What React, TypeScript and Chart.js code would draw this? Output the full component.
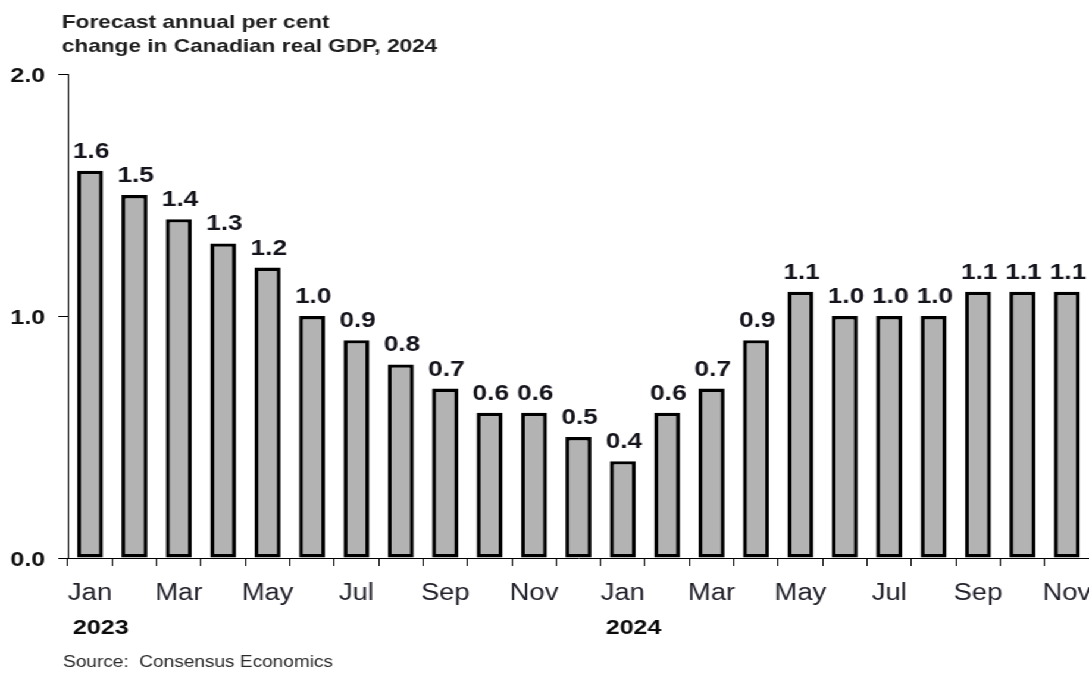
import React, { useEffect, useRef } from 'react';
import { Chart, registerables } from 'chart.js';

Chart.register(...registerables);

const months = ['Jan', 'Feb', 'Mar', 'Apr', 'May', 'Jun', 'Jul', 'Aug', 'Sep', 'Oct', 'Nov', 'Dec',
  'Jan', 'Feb', 'Mar', 'Apr', 'May', 'Jun', 'Jul', 'Aug', 'Sep', 'Oct', 'Nov'];
const forecast = [1.6, 1.5, 1.4, 1.3, 1.2, 1.0, 0.9, 0.8, 0.7, 0.6, 0.6, 0.5,
  0.4, 0.6, 0.7, 0.9, 1.1, 1.0, 1.0, 1.0, 1.1, 1.1, 1.1];
const yTickValues = [0, 1, 2];
const yearLabels = ['2023', '', '', '', '', '', '', '', '', '', '', '',
  '2024', '', '', '', '', '', '', '', '', '', ''];
const titleLines = ['Forecast annual per cent', 'change in Canadian real GDP, 2024'];
const sourceNote = 'Source:  Consensus Economics';

const FONT = '"Liberation Sans", Arial, sans-serif';
const W = 915;
const H = 677;
const STRETCH = 1089 / W;

const textPlugin = {
  id: 'customText',
  afterDraw(chart: any) {
    const ctx = chart.ctx;
    const xs = chart.scales.x;
    const ys = chart.scales.y;
    ctx.save();

    // title
    ctx.fillStyle = '#1e1e1e';
    ctx.font = `bold 19px ${FONT}`;
    ctx.textAlign = 'left';
    ctx.textBaseline = 'alphabetic';
    ctx.fillText(titleLines[0], 52, 28);
    ctx.fillText(titleLines[1], 52, 52);

    // y tick labels
    ctx.fillStyle = '#111';
    ctx.font = `bold 21px ${FONT}`;
    ctx.textAlign = 'right';
    yTickValues.forEach((v) => {
      const y = ys.getPixelForValue(v);
      ctx.fillText(v.toFixed(1), 38, y + 7.5);
    });

    // x tick labels (every other month)
    ctx.fillStyle = '#22222c';
    ctx.font = `23px ${FONT}`;
    ctx.textAlign = 'center';
    months.forEach((m, i) => {
      if (i % 2 === 0) {
        ctx.fillText(m, xs.getPixelForValue(i), 600);
      }
    });

    // year labels
    ctx.fillStyle = '#0a0a0a';
    ctx.font = `bold 21px ${FONT}`;
    ctx.textAlign = 'left';
    yearLabels.forEach((yl, i) => {
      if (yl) ctx.fillText(yl, xs.getPixelForValue(i) - 14.3, 634);
    });

    // bar value labels
    ctx.fillStyle = '#14141c';
    ctx.font = `bold 22px ${FONT}`;
    ctx.textAlign = 'center';
    const meta = chart.getDatasetMeta(0);
    meta.data.forEach((el: any, i: number) => {
      ctx.fillText(forecast[i].toFixed(1), el.x + 1, el.y - 13);
    });

    // source
    ctx.fillStyle = '#2a2a2a';
    ctx.font = `16px ${FONT}`;
    ctx.textAlign = 'left';
    ctx.fillText(sourceNote, 53, 667);

    ctx.restore();
  },
};

export default function App() {
  const canvasRef = useRef<HTMLCanvasElement | null>(null);

  useEffect(() => {
    if (!canvasRef.current) return;
    const chart = new Chart(canvasRef.current, {
      type: 'bar',
      data: {
        labels: months,
        datasets: [
          {
            data: forecast,
            backgroundColor: '#b3b3b3',
            borderColor: '#000',
            borderWidth: 3.4,
            borderSkipped: false,
            barPercentage: 0.585,
            categoryPercentage: 1,
          },
        ],
      },
      options: {
        responsive: true,
        maintainAspectRatio: false,
        animation: false,
        layout: { padding: { top: 74, left: 0, right: 0, bottom: 0 } },
        plugins: {
          legend: { display: false },
          tooltip: { enabled: false },
          title: { display: false },
        },
        scales: {
          x: {
            offset: true,
            ticks: { display: false },
            grid: {
              display: true,
              offset: true,
              drawOnChartArea: false,
              drawTicks: true,
              tickLength: 8,
              color: '#000',
              lineWidth: 1,
            },
            border: { display: true, color: '#000', width: 1 },
            afterFit: (scale: any) => {
              scale.height = 119;
            },
          },
          y: {
            min: 0,
            max: 2,
            ticks: { display: false, stepSize: 1 },
            grid: {
              display: true,
              drawOnChartArea: false,
              drawTicks: true,
              tickLength: 8,
              color: '#000',
              lineWidth: 1,
            },
            border: { display: true, color: '#000', width: 1 },
            afterFit: (scale: any) => {
              scale.width = 57;
            },
          },
        },
      },
      plugins: [textPlugin],
    });
    return () => chart.destroy();
  }, []);

  return (
    <div
      style={{
        position: 'absolute',
        left: 0,
        top: 0,
        width: W,
        height: H,
        transform: `scaleX(${STRETCH})`,
        transformOrigin: '0 0',
        background: '#fff',
      }}
    >
      <canvas ref={canvasRef} />
    </div>
  );
}
